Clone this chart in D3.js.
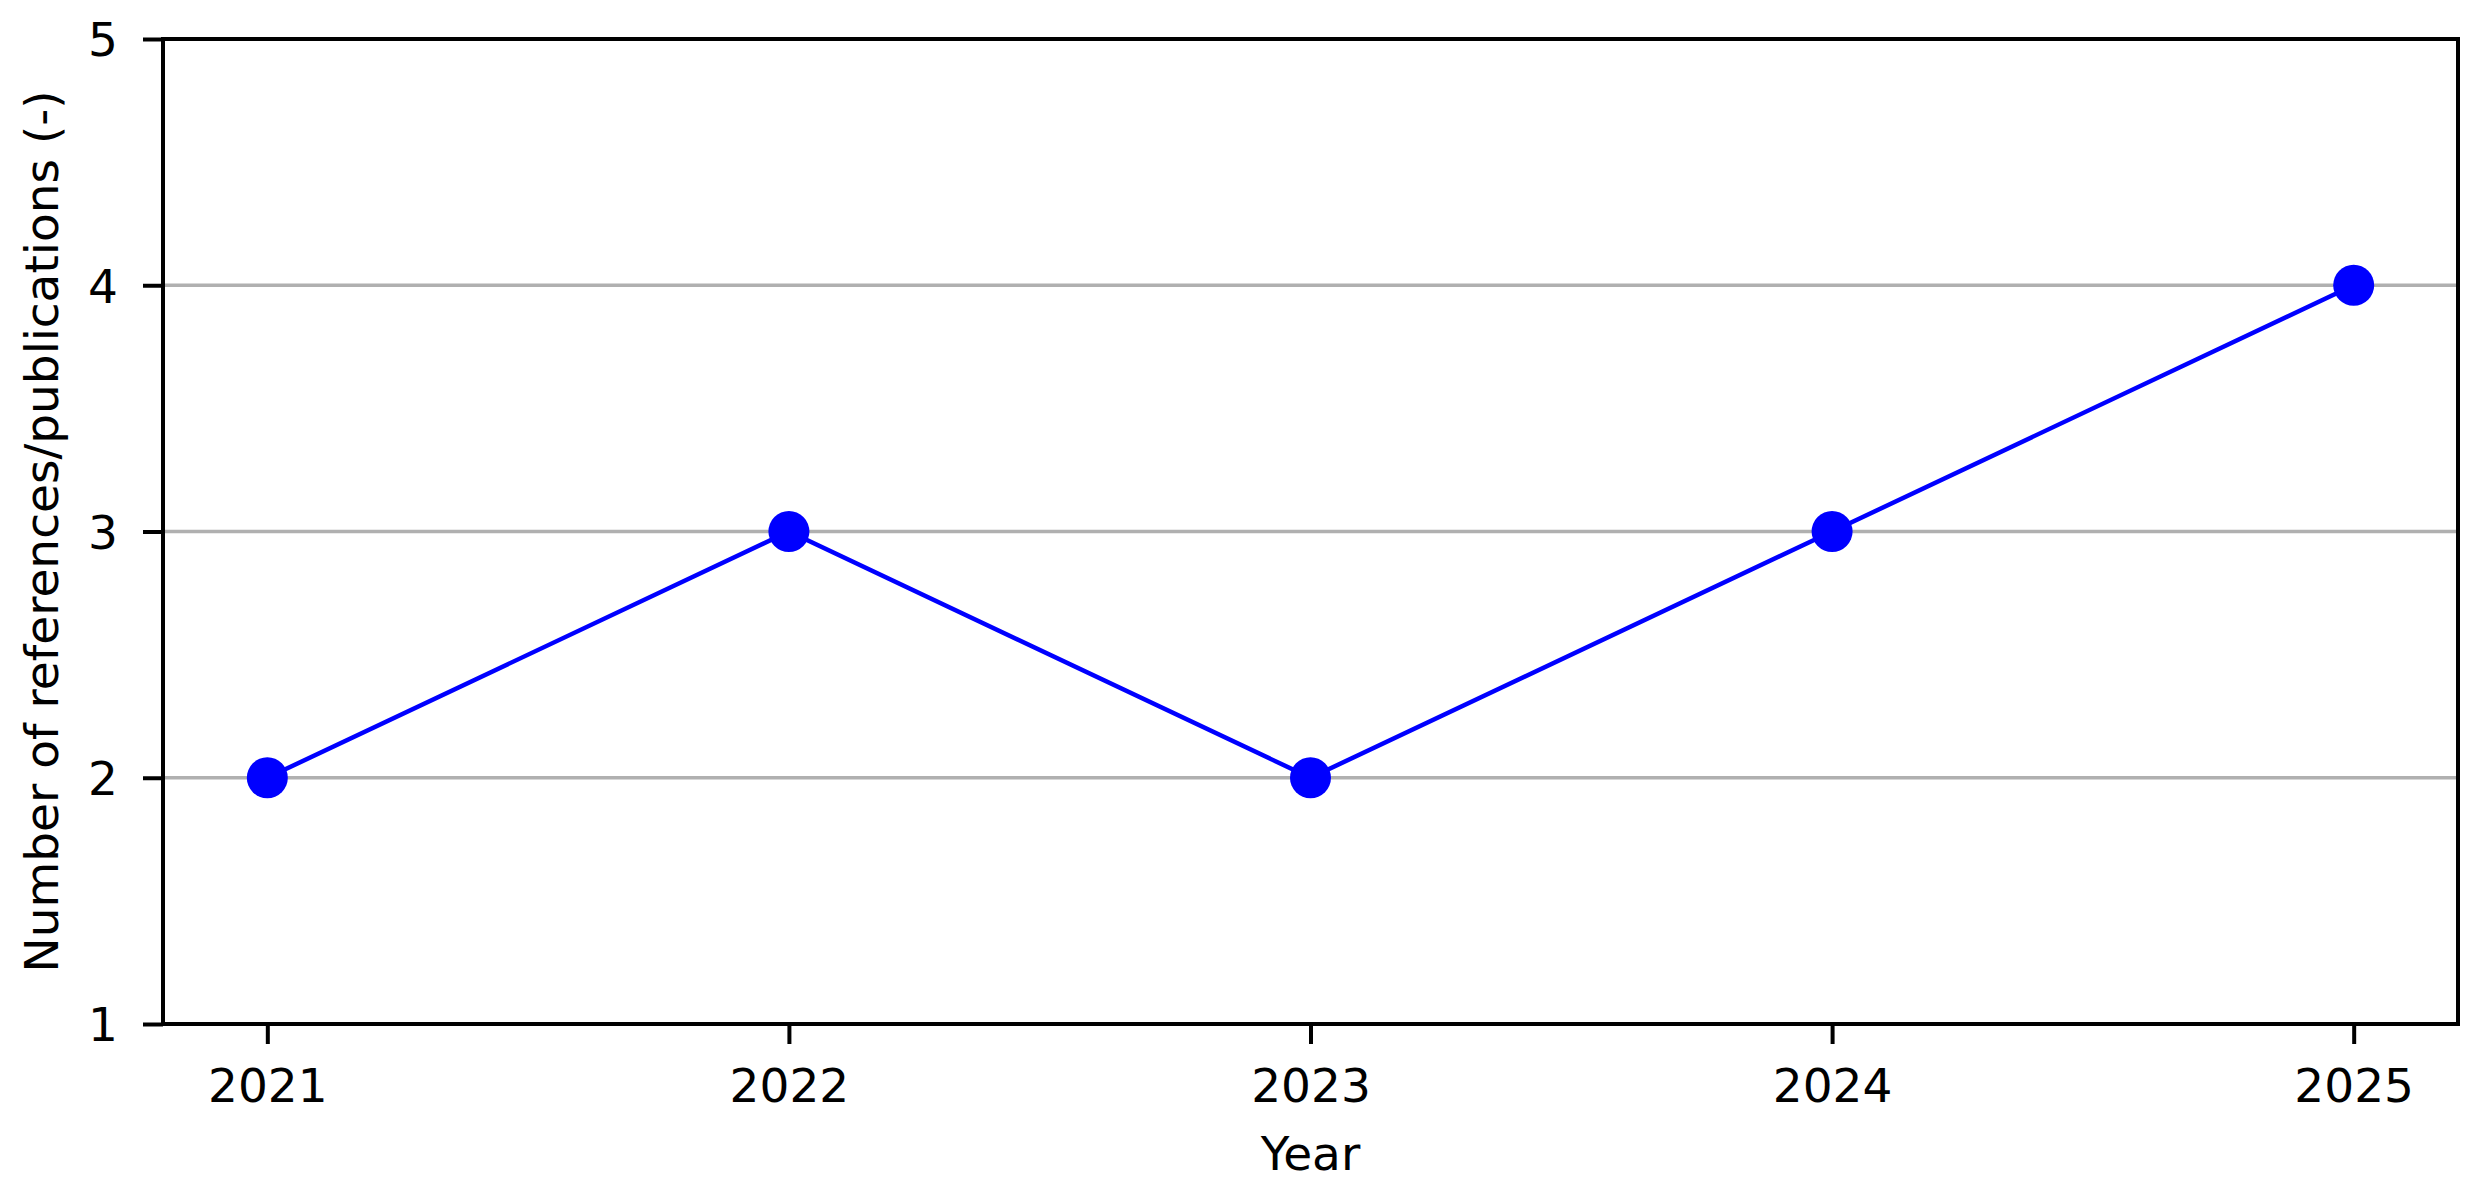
<!DOCTYPE html>
<html>
<head>
<meta charset="utf-8">
<script src="https://cdn.jsdelivr.net/npm/d3@7"></script>
<style>
  html, body { margin: 0; padding: 0; background: #fff; }
  svg { display: block; }
  text { font-family: "DejaVu Sans", sans-serif; fill: #000; }
</style>
</head>
<body>
<script>
const years = [2021, 2022, 2023, 2024, 2025];
const counts = [2, 3, 2, 3, 4];
const yTicks = [1, 2, 3, 4, 5];
const gridTicks = [2, 3, 4];
const xLabel = "Year";
const yLabel = "Number of references/publications (-)";

const W = 2481, H = 1188;
const L = 163, R = 2458, T = 39, B = 1024;
const fs = 47;

const svg = d3.select("body").append("svg").attr("width", W).attr("height", H);

const x = d3.scaleLinear().domain([2020.8, 2025.2]).range([L, R]);
const y = d3.scaleLinear().domain([1, 5]).range([B, T]);

// grid
svg.append("g").selectAll("line").data(gridTicks).join("line")
  .attr("x1", L).attr("x2", R)
  .attr("y1", d => y(d)).attr("y2", d => y(d))
  .attr("stroke", "#b0b0b0").attr("stroke-width", 3.5);

// line
const line = d3.line().x((d, i) => x(years[i])).y(d => y(d));
svg.append("path").datum(counts)
  .attr("d", line).attr("fill", "none")
  .attr("stroke", "#0000ff").attr("stroke-width", 4.5);

svg.append("g").selectAll("circle").data(counts).join("circle")
  .attr("cx", (d, i) => x(years[i])).attr("cy", d => y(d))
  .attr("r", 20.5).attr("fill", "#0000ff");

// spines
svg.append("rect").attr("x", L).attr("y", T).attr("width", R - L).attr("height", B - T)
  .attr("fill", "none").attr("stroke", "#000").attr("stroke-width", 4);

// x axis
const xAxis = d3.axisBottom(x).tickValues(years).tickFormat(d3.format("d"))
  .tickSize(20).tickPadding(20);
const gx = svg.append("g").attr("transform", `translate(0,${B})`).call(xAxis);
gx.select(".domain").remove();
gx.selectAll(".tick line").attr("stroke", "#000").attr("stroke-width", 4);
gx.selectAll(".tick text").attr("font-size", fs).attr("font-family", "DejaVu Sans")
  .attr("fill", "#000").attr("y", null).attr("dy", null)
  .attr("dominant-baseline", "alphabetic")
  .attr("transform", `translate(0,${1102 - B})`);

// y axis
const yAxis = d3.axisLeft(y).tickValues(yTicks).tickFormat(d3.format("d"))
  .tickSize(20).tickPadding(25);
const gy = svg.append("g").attr("transform", `translate(${L},0)`).call(yAxis);
gy.select(".domain").remove();
gy.selectAll(".tick line").attr("stroke", "#000").attr("stroke-width", 4);
gy.selectAll(".tick text").attr("font-size", fs).attr("font-family", "DejaVu Sans")
  .attr("fill", "#000").attr("x", 118 - L).attr("dy", "0.36em");

// labels
svg.append("text").attr("x", (L + R) / 2).attr("y", 1170)
  .attr("text-anchor", "middle").attr("font-size", fs).text(xLabel);

svg.append("text")
  .attr("transform", `translate(58,${(T + B) / 2}) rotate(-90)`)
  .attr("text-anchor", "middle").attr("font-size", fs).text(yLabel);
</script>
</body>
</html>
